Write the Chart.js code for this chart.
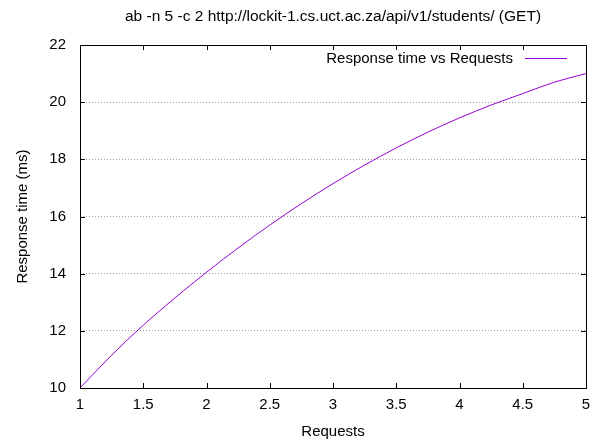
<!DOCTYPE html>
<html>
<head>
<meta charset="utf-8">
<script src="https://cdn.jsdelivr.net/npm/chart.js@4/dist/chart.umd.min.js"></script>
<style>
  html, body { margin: 0; padding: 0; background: #fff; }
  #wrap { width: 608px; height: 441px; }
</style>
</head>
<body>
<div id="wrap"><canvas id="respChart" width="608" height="441"></canvas></div>
<script>
// Values
const requests = [1, 1.25, 1.5, 1.75, 2, 2.25, 2.5, 2.75, 3, 3.25, 3.5, 3.75, 4, 4.25, 4.5, 4.75, 5];
const responseMs = [10, 11.15, 12.2, 13.15, 14.05, 14.9, 15.7, 16.45, 17.15, 17.8, 18.4, 18.95, 19.45, 19.9, 20.3, 20.7, 21.0];
const seriesLabel = 'Response time vs Requests';
const chartTitle = 'ab -n 5 -c 2 http://lockit-1.cs.uct.ac.za/api/v1/students/ (GET)';

const FONT = 'Liberation Sans, Arial, sans-serif';

// title over the plot, frame, inward tick marks and the key (gnuplot look)
const gnuplotFrame = {
    id: 'gnuplotFrame',
    afterDatasetsDraw(chart) {
        const { ctx, chartArea: a, scales } = chart;
        ctx.save();
        ctx.strokeStyle = '#000';
        ctx.lineWidth = 1;

        // tick marks pointing into the plot
        ctx.beginPath();
        scales.x.ticks.forEach(t => {
            const px = Math.round(scales.x.getPixelForValue(t.value)) + 0.5;
            ctx.moveTo(px, a.bottom); ctx.lineTo(px, a.bottom - 5);
            ctx.moveTo(px, a.top); ctx.lineTo(px, a.top + 5);
        });
        scales.y.ticks.forEach(t => {
            const py = Math.round(scales.y.getPixelForValue(t.value)) + 0.5;
            ctx.moveTo(a.left, py); ctx.lineTo(a.left + 5, py);
            ctx.moveTo(a.right, py); ctx.lineTo(a.right - 5, py);
        });
        ctx.stroke();

        // border box
        ctx.strokeRect(Math.round(a.left) + 0.5, Math.round(a.top) + 0.5,
            Math.round(a.right - a.left), Math.round(a.bottom - a.top));

        ctx.fillStyle = '#000';
        ctx.textBaseline = 'middle';

        // title, centred on the plot area
        ctx.font = '15.5px ' + FONT;
        ctx.textAlign = 'center';
        ctx.fillText(chartTitle, (a.left + a.right) / 2, 17);

        // key
        const ds = chart.data.datasets[0];
        const keyY = a.top + 13.5;
        ctx.font = '15px ' + FONT;
        ctx.textAlign = 'right';
        ctx.fillText(ds.label, a.right - 73, keyY);
        ctx.strokeStyle = ds.borderColor;
        ctx.beginPath();
        ctx.moveTo(a.right - 61, keyY);
        ctx.lineTo(a.right - 19, keyY);
        ctx.stroke();
        ctx.restore();
    }
};

new Chart(document.getElementById('respChart'), {
    type: 'line',
    data: {
        datasets: [{
            label: seriesLabel,
            data: requests.map((r, i) => ({ x: r, y: responseMs[i] })),
            borderColor: '#9400d3',
            borderWidth: 1,
            pointRadius: 0,
            cubicInterpolationMode: 'monotone',
            fill: false
        }]
    },
    options: {
        responsive: false,
        animation: false,
        layout: { padding: { top: 45, right: 22 } },
        plugins: {
            legend: { display: false },
            tooltip: { enabled: false },
            title: { display: false }
        },
        scales: {
            x: {
                type: 'linear',
                min: 1,
                max: 5,
                afterFit(s) { s.height = 53; },
                ticks: {
                    stepSize: 0.5, color: '#000', padding: 8,
                    font: { family: FONT, size: 15 },
                    callback: v => String(Number(v))
                },
                grid: { display: false, drawTicks: false },
                border: { display: false },
                title: {
                    display: true, text: 'Requests', color: '#000',
                    font: { family: FONT, size: 15 }, padding: { top: 0, bottom: 0 }
                }
            },
            y: {
                min: 10,
                max: 22,
                afterFit(s) { s.width = 80; },
                ticks: { stepSize: 2, color: '#000', padding: 14, font: { family: FONT, size: 15 } },
                grid: { color: '#a0a0a0', drawTicks: false },
                border: { display: false, dash: [1, 2] },
                title: {
                    display: true, text: 'Response time (ms)', color: '#000',
                    font: { family: FONT, size: 15 }, padding: { top: 14, bottom: 0 }
                }
            }
        }
    },
    plugins: [gnuplotFrame]
});
</script>
</body>
</html>
